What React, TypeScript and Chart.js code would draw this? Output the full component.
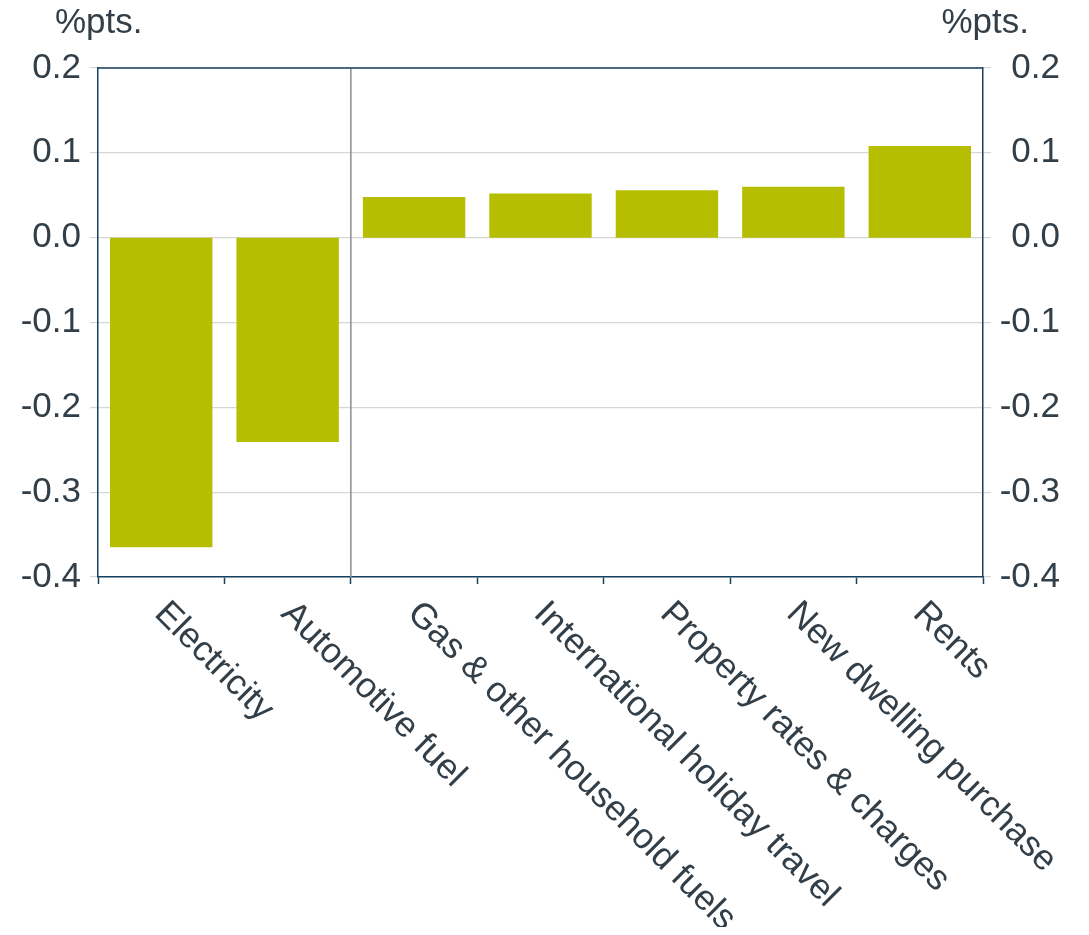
import React, { useEffect, useRef } from "react";
import { Chart, registerables } from "chart.js";

Chart.register(...registerables);

const categories = [
  "Electricity",
  "Automotive fuel",
  "Gas & other household fuels",
  "International holiday travel",
  "Property rates & charges",
  "New dwelling purchase",
  "Rents",
];
const contributions = [-0.365, -0.241, 0.048, 0.052, 0.056, 0.06, 0.108];
const yMin = -0.4;
const yMax = 0.2;
const yStep = 0.1;
const unitLabel = "%pts.";
const separatorAfterIndex = 1;

const FONT = "'Liberation Sans', Arial, sans-serif";
const FONT_SIZE = 35;
const CAT_FONT_SIZE = 35.5;
const TEXT = "#333f48";
const NAVY = "#17405f";
const GRID = "#d6d6d6";
const BAR = "#b5be00";

const decorPlugin = {
  id: "decor",
  beforeDatasetsDraw(chart: any) {
    const { ctx, chartArea } = chart;
    const xs = chart.scales.x;
    const xSep =
      (xs.getPixelForValue(separatorAfterIndex) +
        xs.getPixelForValue(separatorAfterIndex + 1)) /
      2;
    ctx.save();
    ctx.strokeStyle = "#8c8c8c";
    ctx.lineWidth = 1.5;
    ctx.beginPath();
    ctx.moveTo(xSep, chartArea.top);
    ctx.lineTo(xSep, chartArea.bottom);
    ctx.stroke();
    ctx.restore();
  },
  afterDraw(chart: any) {
    const { ctx, chartArea } = chart;
    const xs = chart.scales.x;
    ctx.save();
    ctx.strokeStyle = NAVY;
    ctx.lineWidth = 1.5;
    ctx.beginPath();
    ctx.moveTo(chartArea.left, chartArea.top);
    ctx.lineTo(chartArea.right, chartArea.top);
    ctx.stroke();

    ctx.fillStyle = TEXT;
    ctx.font = `${FONT_SIZE}px ${FONT}`;
    ctx.textBaseline = "alphabetic";
    ctx.textAlign = "left";
    ctx.fillText(unitLabel, chartArea.left - 43, 25);
    ctx.textAlign = "right";
    ctx.fillText(unitLabel, chartArea.right + 46, 25);

    ctx.font = `${CAT_FONT_SIZE}px ${FONT}`;
    categories.forEach((label, i) => {
      const x = xs.getPixelForValue(i);
      ctx.save();
      ctx.translate(x - 8, chartArea.bottom + 38);
      ctx.rotate(Math.PI / 4);
      ctx.textAlign = "left";
      ctx.textBaseline = "alphabetic";
      ctx.fillText(label, 0, 0);
      ctx.restore();
    });
    ctx.restore();
  },
};

export default function App() {
  const canvasRef = useRef<HTMLCanvasElement | null>(null);

  useEffect(() => {
    if (!canvasRef.current) return;
    const tickFmt = (v: any) =>
      (Math.round(Number(v) * 10) / 10).toFixed(1).replace("-0.0", "0.0");
    const chart = new Chart(canvasRef.current, {
      type: "bar",
      data: {
        labels: categories,
        datasets: [
          {
            data: contributions,
            backgroundColor: BAR,
            borderWidth: 0,
            barPercentage: 0.81,
            categoryPercentage: 1,
          },
        ],
      },
      plugins: [decorPlugin],
      options: {
        animation: false,
        responsive: true,
        maintainAspectRatio: false,
        layout: { padding: { top: 60, right: 21, left: 0, bottom: 0 } },
        plugins: {
          legend: { display: false },
          tooltip: { enabled: false },
          title: { display: false },
        },
        scales: {
          x: {
            ticks: { display: false },
            grid: {
              offset: true,
              drawOnChartArea: false,
              drawTicks: true,
              tickLength: 7,
              tickColor: NAVY,
              tickWidth: 1.5,
            },
            border: { display: true, color: NAVY, width: 1.5 },
            afterFit(scale: any) {
              scale.height = 350;
            },
          },
          y: {
            position: "left",
            min: yMin,
            max: yMax,
            ticks: {
              stepSize: yStep,
              color: TEXT,
              font: { family: FONT, size: FONT_SIZE },
              padding: 9,
              callback: tickFmt,
            },
            grid: {
              color: GRID,
              lineWidth: 1.2,
              tickLength: 8,
              tickColor: GRID,
            },
            border: { display: true, color: NAVY, width: 1.5 },
            afterFit(scale: any) {
              scale.width = 90;
            },
          },
          y2: {
            position: "right",
            min: yMin,
            max: yMax,
            ticks: {
              stepSize: yStep,
              color: TEXT,
              font: { family: FONT, size: FONT_SIZE },
              padding: 9,
              crossAlign: "far",
              callback: tickFmt,
            },
            grid: {
              drawOnChartArea: false,
              tickLength: 8,
              tickColor: GRID,
              lineWidth: 1.2,
            },
            border: { display: true, color: NAVY, width: 1.5 },
            afterFit(scale: any) {
              scale.width = 77;
            },
          },
        },
      },
    } as any);
    return () => chart.destroy();
  }, []);

  return (
    <div style={{ position: "relative", width: 1073, height: 919 }}>
      <canvas ref={canvasRef} />
    </div>
  );
}
